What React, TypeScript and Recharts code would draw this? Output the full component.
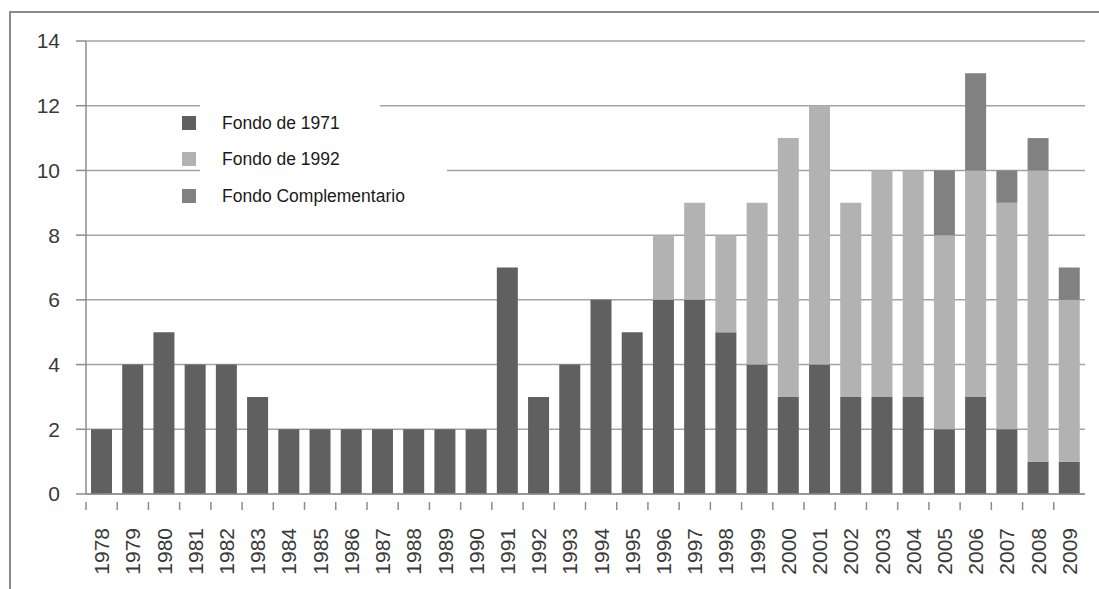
import { BarChart, Bar, XAxis, YAxis, CartesianGrid } from 'recharts'

const years = [
  '1978', '1979', '1980', '1981', '1982', '1983', '1984', '1985', '1986', '1987', '1988',
  '1989', '1990', '1991', '1992', '1993', '1994', '1995', '1996', '1997', '1998', '1999',
  '2000', '2001', '2002', '2003', '2004', '2005', '2006', '2007', '2008', '2009',
]
const fondo1971 = [2, 4, 5, 4, 4, 3, 2, 2, 2, 2, 2, 2, 2, 7, 3, 4, 6, 5, 6, 6, 5, 4, 3, 4, 3, 3, 3, 2, 3, 2, 1, 1]
const fondo1992 = [0, 0, 0, 0, 0, 0, 0, 0, 0, 0, 0, 0, 0, 0, 0, 0, 0, 0, 2, 3, 3, 5, 8, 8, 6, 7, 7, 6, 7, 7, 9, 5]
const fondoComp = [0, 0, 0, 0, 0, 0, 0, 0, 0, 0, 0, 0, 0, 0, 0, 0, 0, 0, 0, 0, 0, 0, 0, 0, 0, 0, 0, 2, 3, 1, 1, 1]
const yTicks = [0, 2, 4, 6, 8, 10, 12, 14]

const series = [
  { key: 'f1971', name: 'Fondo de 1971', color: '#606060' },
  { key: 'f1992', name: 'Fondo de 1992', color: '#b2b2b2' },
  { key: 'comp', name: 'Fondo Complementario', color: '#818181' },
]

const data = years.map((y, i) => ({
  year: y,
  f1971: fondo1971[i],
  f1992: fondo1992[i],
  comp: fondoComp[i],
}))

const FONT = '"Liberation Sans", Arial, sans-serif'
const W = 1099
const H = 589
const LEFT = 86
const RIGHT = 14
const STEP = (W - LEFT - RIGHT) / years.length

function YearTick({ x, y, payload }: { x?: number; y?: number; payload?: { value: string } }) {
  if (x == null || y == null) return null
  return (
    <g>
      <line x1={x - STEP / 2} x2={x - STEP / 2} y1={y} y2={y + 8} stroke="#8c8c8c" strokeWidth={1.5} />
      <text
        x={x}
        y={y + 26}
        transform={`rotate(-90 ${x} ${y + 26})`}
        textAnchor="end"
        dominantBaseline="central"
        fontSize={21}
        fill="#3a3a3a"
        fontFamily={FONT}
      >
        {payload?.value}
      </text>
    </g>
  )
}

// legend sits on top of the plot, with a white patch hiding the gridlines behind it
function LegendBox() {
  return (
    <div style={{ position: 'absolute', left: 182, top: 98, width: 270, height: 110, fontFamily: FONT }}>
      <div style={{ position: 'absolute', left: 18, top: 0, width: 180, height: 12, background: '#fff' }} />
      <div style={{ position: 'absolute', left: 18, top: 10, width: 247, height: 100, background: '#fff' }} />
      {series.map((s, i) => (
        <div
          key={s.key}
          style={{ position: 'absolute', left: 0, top: [18, 54, 91][i], height: 14, display: 'flex', alignItems: 'center' }}
        >
          <span style={{ width: 14, height: 14, background: s.color, display: 'inline-block' }} />
          <span style={{ marginLeft: 26, fontSize: 17.5, color: '#1a1a1a', whiteSpace: 'nowrap' }}>{s.name}</span>
        </div>
      ))}
    </div>
  )
}

export default function App() {
  return (
    <div style={{ position: 'absolute', left: 0, top: 0, width: W, height: H, background: '#fff', overflow: 'hidden' }}>
      <div
        style={{
          position: 'absolute',
          left: 9,
          top: 11,
          width: W,
          height: H,
          borderLeft: '2px solid #8a8a8a',
          borderTop: '2px solid #8a8a8a',
        }}
      />
      <div style={{ position: 'absolute', left: 0, top: 0 }}>
        <BarChart
          width={W}
          height={H}
          data={data}
          margin={{ top: 41, right: RIGHT, left: 26, bottom: 10 }}
          barCategoryGap="16%"
        >
          <CartesianGrid vertical={false} stroke="#a3a3a3" strokeWidth={1.5} />
          <XAxis
            dataKey="year"
            interval={0}
            height={85}
            axisLine={{ stroke: '#8c8c8c', strokeWidth: 1.5 }}
            tickLine={false}
            tick={<YearTick />}
          />
          <YAxis
            width={60}
            domain={[0, 14]}
            ticks={yTicks}
            interval={0}
            axisLine={{ stroke: '#8c8c8c', strokeWidth: 1.5 }}
            tickLine={{ stroke: '#8c8c8c', strokeWidth: 1.5 }}
            tickSize={10}
            tickMargin={16}
            tick={{ fontSize: 21, fill: '#3a3a3a', fontFamily: FONT }}
          />
          {series.map(s => (
            <Bar key={s.key} dataKey={s.key} name={s.name} stackId="a" fill={s.color} isAnimationActive={false} />
          ))}
        </BarChart>
      </div>
      <LegendBox />
    </div>
  )
}
